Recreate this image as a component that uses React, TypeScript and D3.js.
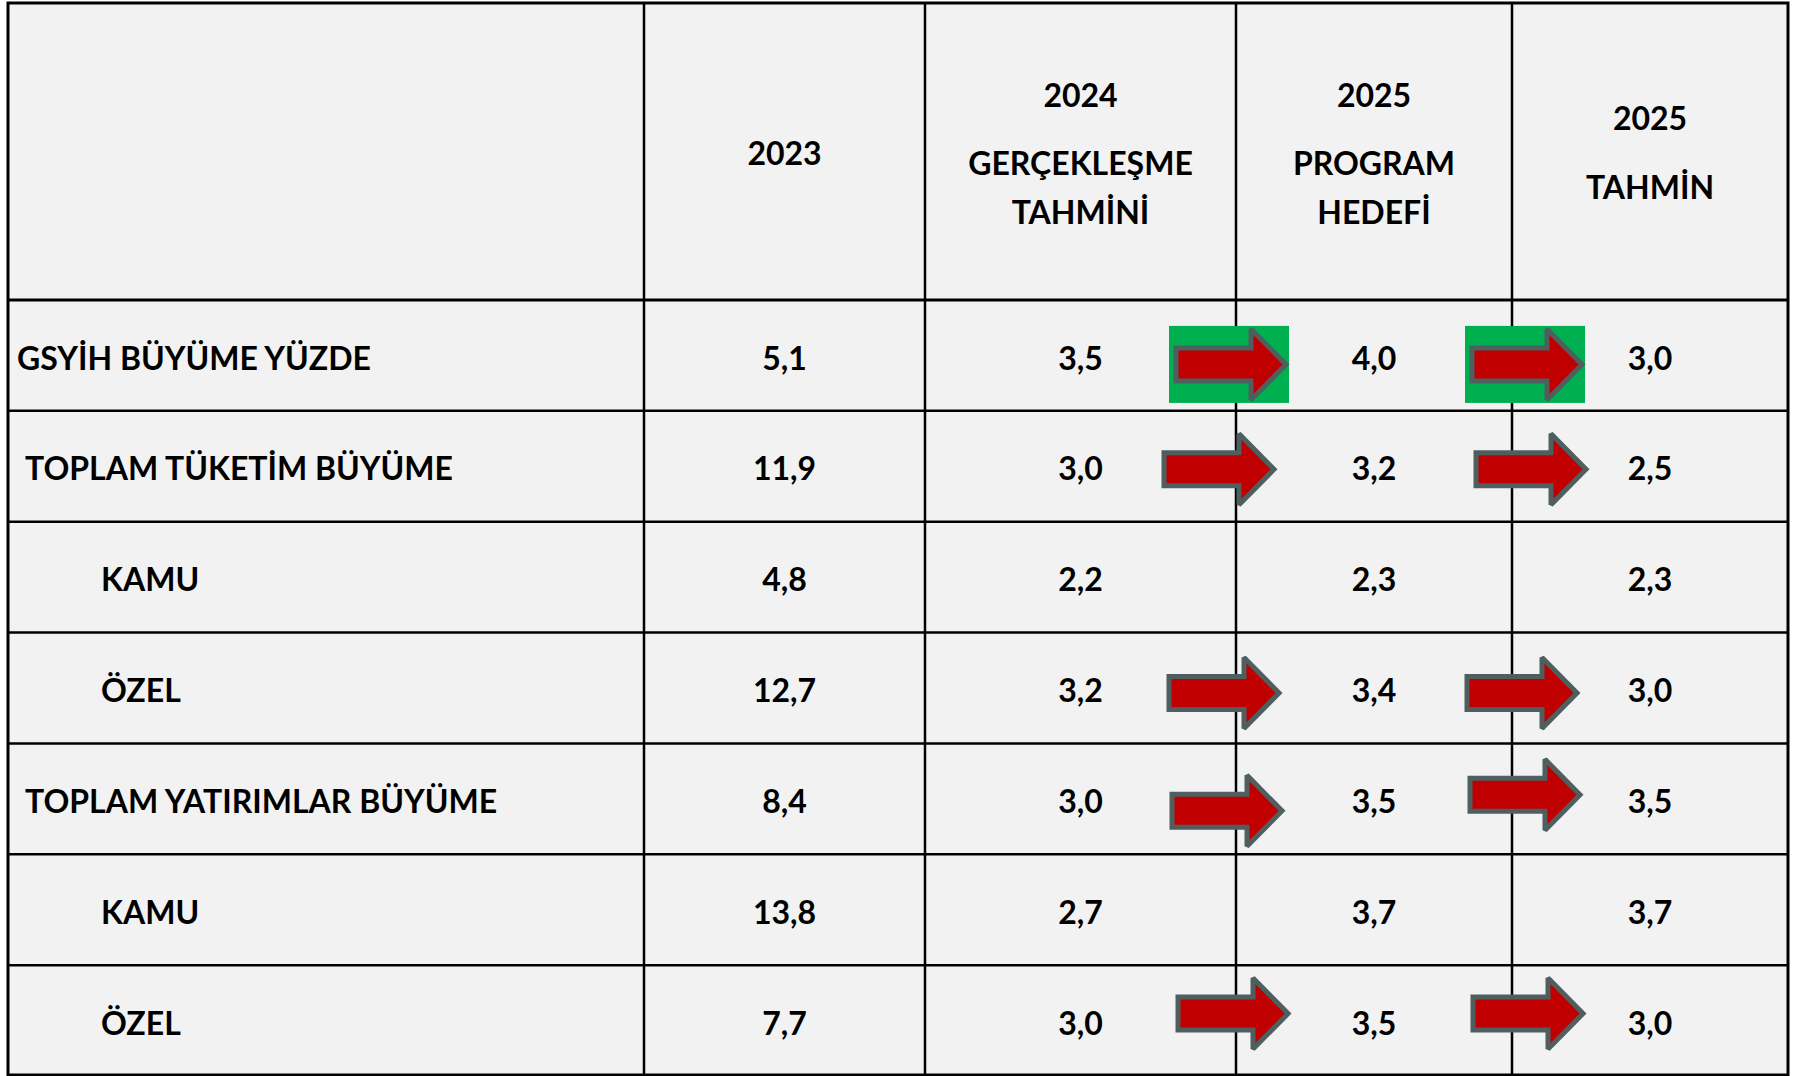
import * as d3 from "d3";

const rowLabels = [
  "GSYİH BÜYÜME YÜZDE",
  "TOPLAM TÜKETİM BÜYÜME",
  "KAMU",
  "ÖZEL",
  "TOPLAM YATIRIMLAR BÜYÜME",
  "KAMU",
  "ÖZEL",
];
const rowIndent = [0, 1, 2, 2, 1, 2, 2];

const headers = [
  ["2023"],
  ["2024", "GERÇEKLEŞME", "TAHMİNİ"],
  ["2025", "PROGRAM", "HEDEFİ"],
  ["2025", "TAHMİN"],
];

const v2023 = ["5,1", "11,9", "4,8", "12,7", "8,4", "13,8", "7,7"];
const v2024 = ["3,5", "3,0", "2,2", "3,2", "3,0", "2,7", "3,0"];
const v2025Program = ["4,0", "3,2", "2,3", "3,4", "3,5", "3,7", "3,5"];
const v2025Tahmin = ["3,0", "2,5", "2,3", "3,0", "3,5", "3,7", "3,0"];

const hasArrow = [true, true, false, true, true, false, true];
const highlighted = [true, false, false, false, false, false, false];

// layout
const W = 1802;
const H = 1076;
const colEdges = [8, 644, 925, 1236, 1512, 1788];
const headerTop = 3;
const headerBottom = 300;
const tableBottom = 1076;
const indentX = [17, 25, 101];
const FONT = "Lato, 'Open Sans', sans-serif";

// arrow tip offsets: [dx from column line, dy from row centre] for the two arrows
const arrowNudge: Record<number, [number, number][]> = {
  0: [[52, 9], [72, 9]],
  1: [[40, 3], [76, 3]],
  3: [[45, 5], [67, 5]],
  4: [[48, 12], [70, -4]],
  6: [[54, -7], [73, -7]],
};

const arrowPath = "M-112,-16.5 L-37,-16.5 L-37,-35.5 L-2,0 L-37,35.5 L-37,16.5 L-112,16.5 Z";

export default function App() {
  const y = d3
    .scaleBand<number>()
    .domain(d3.range(rowLabels.length))
    .range([headerBottom, tableBottom])
    .padding(0);

  const colCenter = (i: number) => (colEdges[i] + colEdges[i + 1]) / 2;
  const columns = [v2023, v2024, v2025Program, v2025Tahmin];
  const headerLineY = [[153], [95, 163, 212], [95, 163, 212], [118, 187]];

  return (
    <svg
      width={W}
      height={H}
      style={{ position: "absolute", left: 0, top: 0, background: "#fff" }}
      fontFamily={FONT}
      fontWeight={700}
    >
      <rect
        x={colEdges[0]}
        y={headerTop}
        width={colEdges[5] - colEdges[0]}
        height={tableBottom - headerTop}
        fill="#f2f2f2"
      />

      {/* grid lines */}
      {y.domain().slice(1).map((i) => (
        <line
          key={"h" + i}
          x1={colEdges[0]}
          x2={colEdges[5]}
          y1={y(i)!}
          y2={y(i)!}
          stroke="#000"
          strokeWidth={2.5}
        />
      ))}
      <line x1={colEdges[0]} x2={colEdges[5]} y1={headerBottom} y2={headerBottom} stroke="#000" strokeWidth={3} />
      {colEdges.slice(1, 5).map((x, i) => (
        <line key={"v" + i} x1={x} x2={x} y1={headerTop} y2={tableBottom} stroke="#000" strokeWidth={2.5} />
      ))}
      <rect
        x={colEdges[0]}
        y={headerTop}
        width={colEdges[5] - colEdges[0]}
        height={tableBottom - headerTop - 1}
        fill="none"
        stroke="#000"
        strokeWidth={3}
      />

      {/* header */}
      {headers.map((lines, c) =>
        lines.map((t, k) => (
          <text
            key={"hd" + c + k}
            x={colCenter(c + 1)}
            y={headerLineY[c][k]}
            dy="0.36em"
            textAnchor="middle"
            fontSize={32}
          >
            {t}
          </text>
        ))
      )}

      {/* row labels */}
      {rowLabels.map((t, i) => (
        <text key={"rl" + i} x={indentX[rowIndent[i]]} y={y(i)! + y.bandwidth() / 2} dy="0.44em" fontSize={32}>
          {t}
        </text>
      ))}

      {/* values */}
      {columns.map((vals, c) =>
        vals.map((v, i) => (
          <text
            key={"v" + c + i}
            x={colCenter(c + 1)}
            y={y(i)! + y.bandwidth() / 2}
            dy="0.44em"
            textAnchor="middle"
            fontSize={32}
          >
            {v}
          </text>
        ))
      )}

      {/* arrows */}
      {hasArrow.map((has, i) =>
        has
          ? [colEdges[3], colEdges[4]].map((lineX, k) => {
              const [dx, dy] = arrowNudge[i][k];
              const tx = lineX + dx;
              const ty = y(i)! + y.bandwidth() / 2 + dy;
              return (
                <g key={"a" + i + k} transform={`translate(${tx},${ty})`}>
                  {highlighted[i] && <rect x={-119} y={-38.5} width={120} height={77} fill="#00b050" />}
                  <path d={arrowPath} fill="#c00000" stroke="#4f5f5f" strokeWidth={5} strokeLinejoin="miter" strokeMiterlimit={2} />
                </g>
              );
            })
          : null
      )}
    </svg>
  );
}
